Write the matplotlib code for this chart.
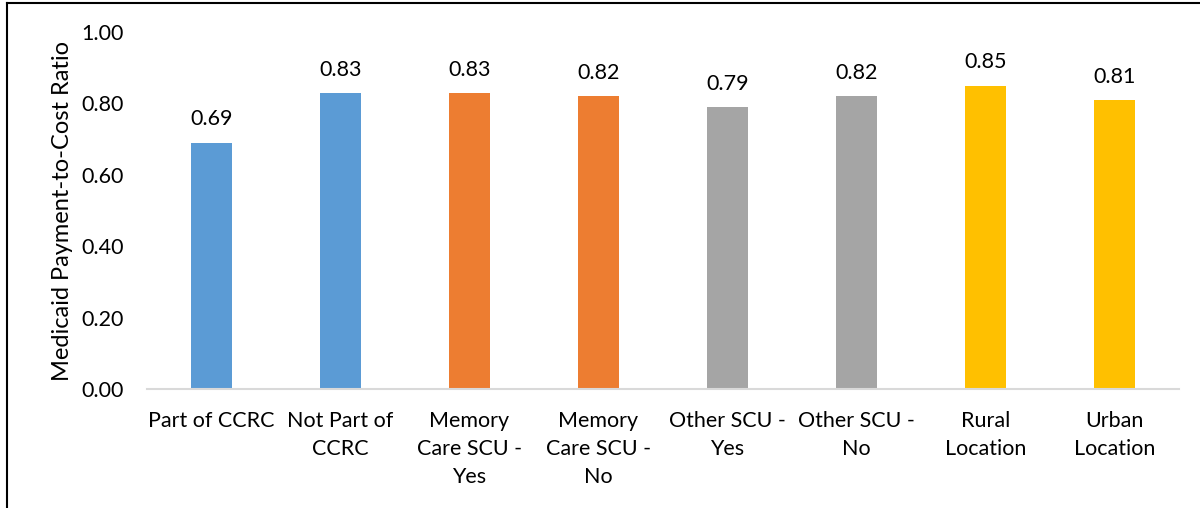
import numpy as np
import matplotlib.pyplot as plt
from matplotlib.lines import Line2D

# chart data
categories = ['Part of CCRC', 'Not Part of\nCCRC', 'Memory\nCare SCU -\nYes', 'Memory\nCare SCU -\nNo',
              'Other SCU -\nYes', 'Other SCU -\nNo', 'Rural\nLocation', 'Urban\nLocation']
ratios = [0.69, 0.83, 0.83, 0.82, 0.79, 0.82, 0.85, 0.81]
bar_colors = ['#5B9BD5', '#5B9BD5', '#ED7D31', '#ED7D31', '#A5A5A5', '#A5A5A5', '#FFC000', '#FFC000']
y_ticks = [0.0, 0.2, 0.4, 0.6, 0.8, 1.0]

plt.rcParams['font.family'] = ['Lato', 'DejaVu Sans']

fig = plt.figure(figsize=(12, 5.08), dpi=100)
ax = fig.add_axes([0.1225, 0.234, 0.86, 0.703])

x = np.arange(len(categories))
ax.bar(x, ratios, width=0.32, color=bar_colors, zorder=2)
for xi, v in zip(x, ratios):
    ax.text(xi, v + 0.037, f'{v:.2f}', ha='center', va='bottom', fontsize=15.5)

ax.set_xlim(-0.5, len(categories) - 0.5)
ax.set_ylim(0, 1.0)
ax.set_yticks(y_ticks)
ax.set_yticklabels([f'{t:.2f}' for t in y_ticks], fontsize=15.5)
ax.set_xticks(x)
ax.set_xticklabels(categories, fontsize=15.5, linespacing=1.48, va='top')
ax.tick_params(axis='both', length=0)
ax.tick_params(axis='x', pad=16)
ax.tick_params(axis='y', pad=17)
ax.set_ylabel('Medicaid Payment-to-Cost Ratio', fontsize=17, labelpad=6)

for side in ['top', 'right', 'left']:
    ax.spines[side].set_visible(False)
ax.spines['bottom'].set_color('#D9D9D9')
ax.spines['bottom'].set_linewidth(1.5)

# outer frame (left and top only, as in the cropped source)
fig.add_artist(Line2D([7 / 1200, 7 / 1200], [0, 1 - 3 / 508], color='black', lw=1.5, transform=fig.transFigure))
fig.add_artist(Line2D([7 / 1200, 1], [1 - 3 / 508, 1 - 3 / 508], color='black', lw=1.5, transform=fig.transFigure))

fig.savefig('out.png', dpi=100)
